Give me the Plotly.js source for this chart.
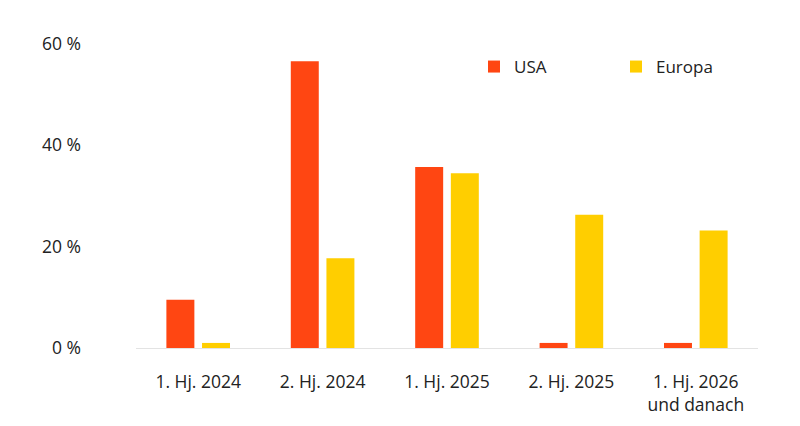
<!DOCTYPE html>
<html>
<head>
<meta charset="utf-8">
<script src="https://cdn.plot.ly/plotly-3.0.1.min.js"></script>
<style>html,body{margin:0;padding:0;background:#fff;}#chart{width:800px;height:426px;}</style>
</head>
<body>
<div id="chart"></div>
<script>
const categories = ["1. Hj. 2024", "2. Hj. 2024", "1. Hj. 2025", "2. Hj. 2025", "1. Hj. 2026<br>und danach"];
const usaValues = [9.5, 56.6, 35.7, 1.0, 1.0];
const europaValues = [1.0, 17.7, 34.5, 26.3, 23.2];
const yTickVals = [0, 20, 40, 60];
const yTickText = ["0 %", "20 %", "40 %", "60 %"];

const font = "'Open Sans', sans-serif";
const traces = [
  {type: "bar", name: "USA", x: categories, y: usaValues, marker: {color: "#FF4612"}, hoverinfo: "skip"},
  {type: "bar", name: "Europa", x: categories, y: europaValues, marker: {color: "#FFCE00"}, hoverinfo: "skip"}
];
const layout = {
  width: 800, height: 426,
  margin: {l: 136, r: 42, t: 44, b: 78, autoexpand: false},
  paper_bgcolor: "#fff", plot_bgcolor: "#fff",
  font: {family: font, size: 17, color: "#222"},
  barmode: "group", bargap: 0.427, bargroupgap: 0.215,
  showlegend: true,
  legend: {orientation: "h", xref: "container", yref: "container", x: 474 / 800, y: 1 - 67 / 426,
           xanchor: "left", yanchor: "middle",
           entrywidth: 97, entrywidthmode: "pixels", font: {size: 17, color: "#222", family: font},
           bgcolor: "rgba(0,0,0,0)"},
  xaxis: {showgrid: false, zeroline: false, showline: true, automargin: false,
          linecolor: "#e3e3e3", linewidth: 1, ticks: "", tickfont: {size: 17.5, color: "#222"},
          ticklabelstandoff: 18, fixedrange: true},
  yaxis: {range: [0, 60], tickvals: yTickVals, ticktext: yTickText, showgrid: false, zeroline: false,
          ticks: "", automargin: false, ticklabelstandoff: 54,
          tickfont: {size: 17.5, color: "#222"}, fixedrange: true}
};
Plotly.newPlot("chart", traces, layout, {displayModeBar: false, staticPlot: true});
</script>
</body>
</html>
